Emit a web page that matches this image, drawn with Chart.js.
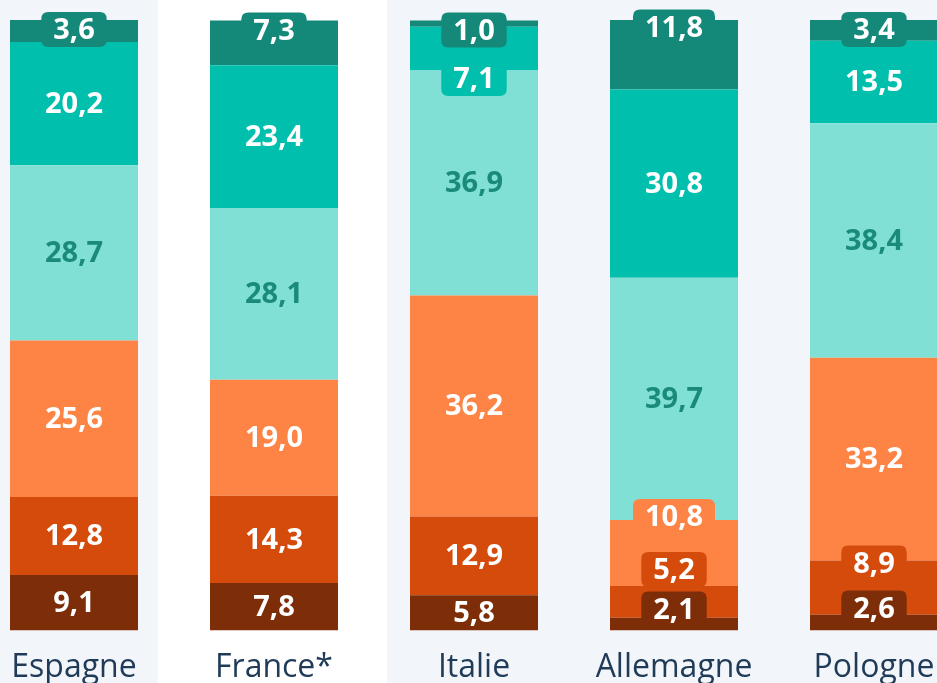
<!DOCTYPE html>
<html>
<head>
<meta charset="utf-8">
<script src="https://cdn.jsdelivr.net/npm/chart.js@4"></script>
<style>
  html, body { margin:0; padding:0; width:937px; height:683px; overflow:hidden; background:#f2f5f9; }
  #wrap { position:absolute; left:-26px; top:0; width:1000px; height:683px; overflow:hidden; }
</style>
</head>
<body>
<div id="wrap"><canvas id="c" width="1000" height="705"></canvas></div>
<script>
const categories = ['Espagne', 'France*', 'Italie', 'Allemagne', 'Pologne'];
// stacked from bottom to top
const seriesA = [9.1, 7.8, 5.8, 2.1, 2.6];
const seriesB = [12.8, 14.3, 12.9, 5.2, 8.9];
const seriesC = [25.6, 19.0, 36.2, 10.8, 33.2];
const seriesD = [28.7, 28.1, 36.9, 39.7, 38.4];
const seriesE = [20.2, 23.4, 7.1, 30.8, 13.5];
const seriesF = [3.6, 7.3, 1.0, 11.8, 3.4];
const seriesNames = ['Série 1', 'Série 2', 'Série 3', 'Série 4', 'Série 5', 'Série 6'];

const colors = ['#7d2e08', '#d54b0c', '#fd8445', '#80e0d6', '#00bfad', '#14897a'];
const highlightCategory = 'France*';

// label placement for boxed (small) labels: anchor edge of segment + offset in px
const PLACEMENT = {
  '5:0': {anchor:'top', dy:10}, '5:1': {anchor:'top', dy:10}, '5:2': {anchor:'top', dy:10},
  '5:3': {anchor:'top', dy:10}, '5:4': {anchor:'top', dy:10},
  '4:2': {anchor:'bottom', dy:9},
  '2:3': {anchor:'top', dy:-3},
  '1:3': {anchor:'top', dy:-16},
  '0:3': {anchor:'bottom', dy:-21},
  '1:4': {anchor:'top', dy:3},
  '0:4': {anchor:'bottom', dy:-22}
};

const fmt = v => v.toFixed(1).replace('.', ',');

function roundRect(ctx, x, y, w, h, r) {
  ctx.beginPath();
  ctx.moveTo(x + r, y);
  ctx.lineTo(x + w - r, y);
  ctx.quadraticCurveTo(x + w, y, x + w, y + r);
  ctx.lineTo(x + w, y + h - r);
  ctx.quadraticCurveTo(x + w, y + h, x + w - r, y + h);
  ctx.lineTo(x + r, y + h);
  ctx.quadraticCurveTo(x, y + h, x, y + h - r);
  ctx.lineTo(x, y + r);
  ctx.quadraticCurveTo(x, y, x + r, y);
  ctx.closePath();
}

const bandPlugin = {
  id: 'band',
  beforeDraw(chart) {
    const xs = chart.scales.x;
    const idx = categories.indexOf(highlightCategory);
    const cx = xs.getPixelForValue(idx);
    const ctx = chart.ctx;
    ctx.save();
    ctx.fillStyle = '#ffffff';
    ctx.fillRect(cx - 116, 0, 229, chart.height);
    ctx.restore();
  }
};

const labelPlugin = {
  id: 'segLabels',
  afterDatasetsDraw(chart) {
    const ctx = chart.ctx;
    ctx.save();
    ctx.font = '700 29px "Open Sans"';
    ctx.textAlign = 'center';
    ctx.textBaseline = 'middle';
    chart.data.datasets.forEach((ds, di) => {
      const meta = chart.getDatasetMeta(di);
      meta.data.forEach((bar, i) => {
        const v = ds.data[i];
        const top = Math.min(bar.y, bar.base);
        const bottom = Math.max(bar.y, bar.base);
        const p = PLACEMENT[di + ':' + i];
        let cy = (top + bottom) / 2;
        const text = fmt(v);
        if (p) {
          cy = (p.anchor === 'top' ? top : bottom) + p.dy;
          const tw = ctx.measureText(text).width;
          const bw = tw + 24, bh = 35;
          ctx.fillStyle = ds.backgroundColor;
          roundRect(ctx, bar.x - bw / 2, cy - bh / 2 - 0.5, bw, bh, 7);
          ctx.fill();
        }
        ctx.fillStyle = di === 3 ? '#1a8a7a' : '#ffffff';
        ctx.fillText(text, bar.x, cy + 1);
      });
    });
    ctx.restore();
  }
};

const allSeries = [seriesA, seriesB, seriesC, seriesD, seriesE, seriesF];

new Chart(document.getElementById('c'), {
  type: 'bar',
  data: {
    labels: categories,
    datasets: allSeries.map((d, k) => ({
      label: seriesNames[k],
      data: d,
      backgroundColor: colors[k],
      borderWidth: 0,
      barPercentage: 0.64,
      categoryPercentage: 1
    }))
  },
  options: {
    responsive: false,
    animation: false,
    layout: { padding: { top: 20, left: 0, right: 0, bottom: 0 } },
    plugins: { legend: { display: false }, tooltip: { enabled: false } },
    scales: {
      x: {
        stacked: true,
        grid: { display: false, drawTicks: false },
        border: { display: false },
        ticks: {
          autoSkip: false, maxRotation: 0, padding: 18,
          color: '#1f3b57',
          font: { family: '"Open Sans"', size: 32, lineHeight: 1.2 }
        }
      },
      y: { stacked: true, min: 0, max: 100, display: false }
    }
  },
  plugins: [bandPlugin, labelPlugin]
});
</script>
</body>
</html>
